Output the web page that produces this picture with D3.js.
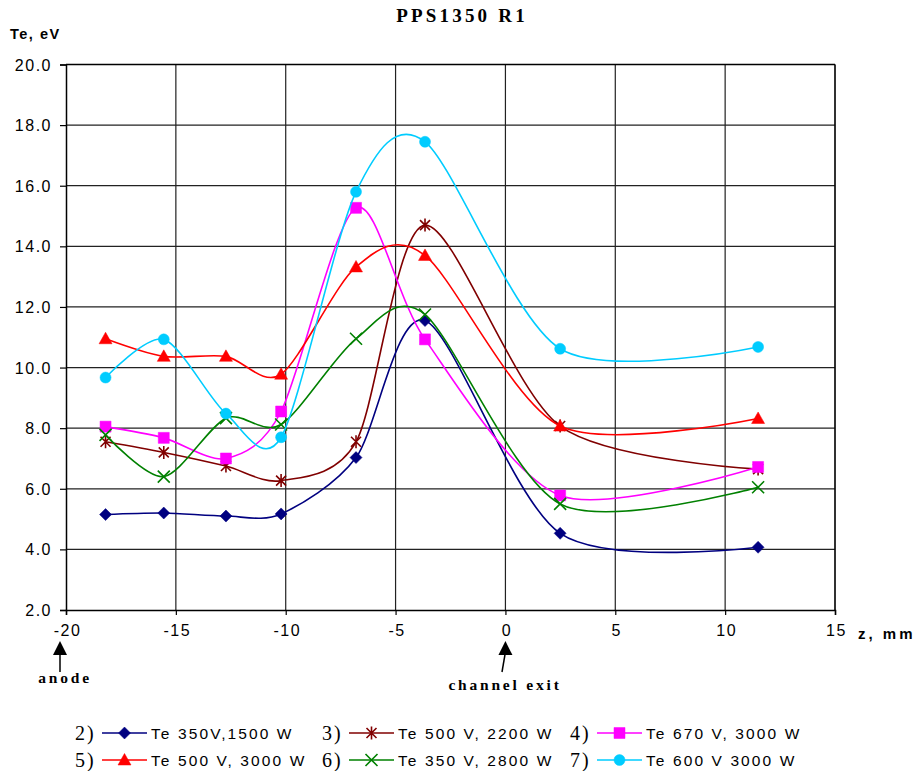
<!DOCTYPE html>
<html>
<head>
<meta charset="utf-8">
<script src="https://cdn.jsdelivr.net/npm/d3@7"></script>
<style>
  body { margin: 0; background: #fff; }
  svg { display: block; }
  .tick text { font-family: "Liberation Sans", Arial, sans-serif; font-size: 16px; letter-spacing: 1.5px; fill: #000; }
</style>
</head>
<body>
<svg id="chart" width="923" height="771"></svg>
<script>
// data
var zPos = [-18.2, -15.55, -12.72, -10.21, -6.8, -3.66, 2.49, 11.5];

var te350_1500 = [5.15, 5.2, 5.1, 5.17, 7.03, 11.55, 4.53, 4.07];
var te500_2200 = [7.55, 7.2, 6.75, 6.27, 7.55, 14.7, 8.07, 6.65];
var te670_3000 = [8.05, 7.68, 7.0, 8.55, 15.27, 10.93, 5.78, 6.72];
var te500_3000 = [10.95, 10.37, 10.37, 9.78, 13.32, 13.7, 8.07, 8.32];
var te350_2800 = [7.78, 6.4, 8.33, 8.12, 10.95, 11.75, 5.5, 6.05];
var te600_3000 = [9.67, 10.93, 8.48, 7.7, 15.8, 17.45, 10.62, 10.68];

var yTicks = [2, 4, 6, 8, 10, 12, 14, 16, 18, 20];
var xTicks = [-20, -15, -10, -5, 0, 5, 10, 15];

var seriesList = [
  {num: '2)', name: 'Te 350V,1500 W',   values: te350_1500, color: '#000080', mark: 'diamond'},
  {num: '3)', name: 'Te 500 V, 2200 W', values: te500_2200, color: '#800000', mark: 'star'},
  {num: '4)', name: 'Te 670 V, 3000 W', values: te670_3000, color: '#FF00FF', mark: 'square'},
  {num: '5)', name: 'Te 500 V, 3000 W', values: te500_3000, color: '#FF0000', mark: 'triangle'},
  {num: '6)', name: 'Te 350 V, 2800 W', values: te350_2800, color: '#008000', mark: 'cross'},
  {num: '7)', name: 'Te 600 V 3000 W',  values: te600_3000, color: '#00CCFF', mark: 'circle'}
];

var svg = d3.select('#chart');

var plot = {l: 66, r: 835, t: 64.5, b: 610};

var xScale = d3.scaleLinear().domain([-20, 15]).range([plot.l, plot.r]);
var yScale = d3.scaleLinear().domain([2, 20]).range([plot.b, plot.t]);

// grid
var gridG = svg.append('g');
gridG.selectAll('.hgrid')
  .data(yTicks.filter(d => d > 2))
  .join('line')
  .attr('x1', plot.l).attr('x2', plot.r)
  .attr('y1', d => yScale(d)).attr('y2', d => yScale(d))
  .attr('stroke', '#222').attr('stroke-width', 1.2);
gridG.selectAll('.vgrid')
  .data(xTicks.filter(d => d > -20))
  .join('line')
  .attr('x1', d => xScale(d)).attr('x2', d => xScale(d))
  .attr('y1', plot.t).attr('y2', plot.b)
  .attr('stroke', '#222').attr('stroke-width', 1.2);

// axes (plain hyphen for minus, like the original)
var yAxis = d3.axisLeft(yScale).tickValues(yTicks).tickFormat(d3.format('.1f')).tickSize(6).tickPadding(8);
var xAxis = d3.axisBottom(xScale).tickValues(xTicks).tickFormat(d => String(d)).tickSize(5).tickPadding(10);

var yG = svg.append('g').attr('transform', 'translate(' + plot.l + ',0)').call(yAxis);
var xG = svg.append('g').attr('transform', 'translate(0,' + plot.b + ')').call(xAxis);
[yG, xG].forEach(function(g) {
  g.select('.domain').attr('stroke', '#000').attr('stroke-width', 1.5);
  g.selectAll('.tick line').attr('stroke', '#000').attr('stroke-width', 1.2);
});
xG.selectAll('.tick text').attr('dx', '1px');
yG.selectAll('.tick text').attr('dy', '0.35em');

// symbols
function markPath(type) {
  if (type === 'diamond') return 'M0,-6L6,0L0,6L-6,0Z';
  if (type === 'square') return 'M-5.5,-5.5H5.5V5.5H-5.5Z';
  if (type === 'triangle') return 'M0,-6.5L6.5,5L-6.5,5Z';
  if (type === 'circle') return d3.symbol().type(d3.symbolCircle).size(95)();
  if (type === 'cross') return 'M-6,-6L6,6M-6,6L6,-6';
  if (type === 'star') return 'M-5,-5L5,5M-5,5L5,-5M0,-6.5L0,6.5';
}
function drawMark(sel, s) {
  var open = (s.mark === 'cross' || s.mark === 'star');
  sel.attr('d', markPath(s.mark))
    .attr('fill', open ? 'none' : s.color)
    .attr('stroke', s.color)
    .attr('stroke-width', open ? 1.6 : 0.5);
}

var line = d3.line()
  .x((d, i) => xScale(zPos[i]))
  .y(d => yScale(d))
  .curve(d3.curveCardinal.tension(0.15));

var seriesG = svg.append('g').selectAll('g')
  .data(seriesList)
  .join('g');

seriesG.append('path')
  .attr('d', d => line(d.values))
  .attr('fill', 'none')
  .attr('stroke', d => d.color)
  .attr('stroke-width', 1.6);

seriesG.each(function(s) {
  d3.select(this).selectAll('.mk')
    .data(s.values)
    .join('path')
    .attr('class', 'mk')
    .attr('transform', (d, i) => 'translate(' + xScale(zPos[i]) + ',' + yScale(d) + ')')
    .call(drawMark, s);
});

// top / right border
svg.append('line').attr('x1', plot.l).attr('x2', plot.r).attr('y1', plot.t).attr('y2', plot.t)
  .attr('stroke', '#000').attr('stroke-width', 1.5);
svg.append('line').attr('x1', plot.r).attr('x2', plot.r).attr('y1', plot.t).attr('y2', plot.b)
  .attr('stroke', '#000').attr('stroke-width', 1.2);

// titles
svg.append('text')
  .text('PPS1350 R1')
  .attr('x', 462).attr('y', 22)
  .attr('text-anchor', 'middle')
  .style('font-family', '"Liberation Serif", "Times New Roman", serif')
  .style('font-weight', 'bold').style('font-size', '19px').style('letter-spacing', '3.2px');

svg.append('text')
  .text('Te, eV')
  .attr('x', 10).attr('y', 39)
  .style('font-family', '"Liberation Sans", Arial, sans-serif')
  .style('font-weight', 'bold').style('font-size', '14.5px').style('letter-spacing', '1.5px');

svg.append('text')
  .text('z, mm')
  .attr('x', 858).attr('y', 639)
  .style('font-family', '"Liberation Sans", Arial, sans-serif')
  .style('font-weight', 'bold').style('font-size', '15px').style('letter-spacing', '3px');

// arrows with notes
var notes = [
  {z: -20, label: 'anode', tx: 65, ty: 683, bx: 60, tipDx: -6},
  {z: 0, label: 'channel exit', tx: 505, ty: 690, bx: 502, tipDx: 0}
];
notes.forEach(function(n) {
  var tipX = xScale(n.z) + n.tipDx;
  svg.append('line')
    .attr('x1', n.bx).attr('y1', 672)
    .attr('x2', tipX).attr('y2', 652)
    .attr('stroke', '#000').attr('stroke-width', 1.5);
  svg.append('path')
    .attr('d', 'M' + tipX + ',641L' + (tipX + 7) + ',655L' + (tipX - 7) + ',655Z')
    .attr('fill', '#000');
  svg.append('text')
    .text(n.label)
    .attr('x', n.tx).attr('y', n.ty)
    .attr('text-anchor', 'middle')
    .style('font-family', '"Liberation Serif", "Times New Roman", serif')
    .style('font-weight', 'bold').style('font-size', '15.5px').style('letter-spacing', '2.8px');
});

// legend
var legCols = [75, 322, 570];
var legRows = [733, 760];
var legG = svg.append('g').selectAll('g')
  .data(seriesList)
  .join('g')
  .attr('transform', (d, i) => 'translate(' + legCols[i % 3] + ',' + legRows[Math.floor(i / 3)] + ')');

legG.append('text')
  .text(d => d.num)
  .attr('x', 0).attr('y', 6.5)
  .style('font-family', '"Liberation Serif", "Times New Roman", serif')
  .style('font-size', '20px').style('letter-spacing', '2px');
legG.append('line')
  .attr('x1', 27).attr('x2', 72).attr('y1', 0).attr('y2', 0)
  .attr('stroke', d => d.color).attr('stroke-width', 1.6);
legG.append('path')
  .attr('transform', 'translate(49.5,0)')
  .each(function(d) { d3.select(this).call(drawMark, d); });
legG.append('text')
  .text(d => d.name)
  .attr('x', 76).attr('y', 5.5)
  .style('font-family', '"Liberation Sans", Arial, sans-serif')
  .style('font-size', '15.5px').style('letter-spacing', '2.1px');
</script>
</body>
</html>
